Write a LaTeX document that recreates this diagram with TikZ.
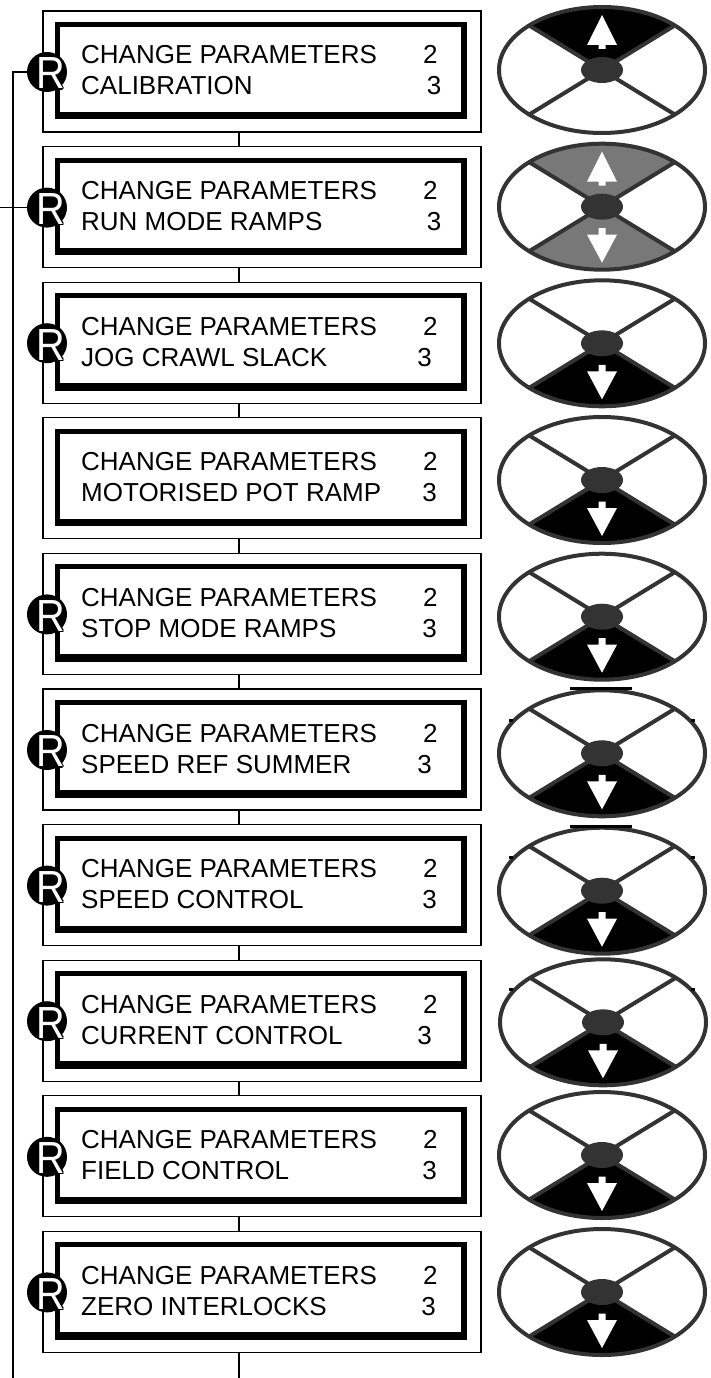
\documentclass[tikz,border=0pt]{standalone}
\usepackage{fontspec}
\setmainfont{Liberation Sans}
\newfontfamily\rfont{Liberation Sans}[FakeStretch=0.88]
\usetikzlibrary{calc}
\definecolor{keyg}{HTML}{333333}
\definecolor{segg}{HTML}{787878}
\tikzset{
  outerbox/.style={draw=black, line width=1.3pt, minimum width=438pt, minimum height=121pt, inner sep=0pt, outer sep=0pt, anchor=north west},
  lcdtext/.style={font=\fontsize{26}{30}\selectfont, inner sep=0pt, anchor=base west},
  numtext/.style={font=\fontsize{26}{30}\selectfont, inner sep=0pt, anchor=base east},
  rnode/.style={circle, fill=black, minimum size=40pt, inner sep=0pt},
  rletter/.style={inner sep=0pt, font=\rfont\fontsize{45}{45}\selectfont},
  wire/.style={line width=1.3pt},
  keyline/.style={draw=keyg, line width=4pt},
  artifact/.style={fill=black},
}
\newcommand\kpad[4]{% #1 x, #2 y (tikz), #3 top colour, #4 bottom colour
  \begin{scope}[shift={(#1,#2)}]
    \fill[#3] (0,0) -- (45:103 and 63) arc[start angle=45,end angle=135,x radius=103,y radius=63] -- cycle;
    \fill[#4] (0,0) -- (225:103 and 63) arc[start angle=225,end angle=315,x radius=103,y radius=63] -- cycle;
    \draw[keyline] (45:103 and 63) -- (225:103 and 63) (135:103 and 63) -- (315:103 and 63);
    \draw[keyline] (0,0) ellipse[x radius=103,y radius=63];
    \fill[keyg] (0,0) ellipse[x radius=21,y radius=13];
  \end{scope}}
\newcommand\uparr[2]{%
  \fill[white, shift={(#1,#2)}] (0,55) -- (15,25) -- (3.5,25) -- (3.5,21) -- (-3.5,21) -- (-3.5,25) -- (-15,25) -- cycle;}
\newcommand\dnarr[2]{%
  \fill[white, shift={(#1,#2)}] (0,-56) -- (15,-28) -- (3.5,-28) -- (3.5,-21.5) -- (-3.5,-21.5) -- (-3.5,-28) -- (-15,-28) -- cycle;}
\begin{document}
\begin{tikzpicture}[x=1pt,y=1pt]
\useasboundingbox (0,0) rectangle (710,-1378);
\fill[white] (0,0) rectangle (710,-1378);
\coordinate (cx) at (239,0);
\coordinate (lx) at (13,0);
\coordinate (ledge) at (0,0);
\coordinate (bot) at (239,-1378);
\coordinate (lbot) at (13,-1378);

% boxes
\foreach \i/\name/\tx/\r in {
  1/CALIBRATION/441.5/1,
  2/RUN MODE RAMPS/441.5/1,
  3/JOG CRAWL SLACK/432/1,
  4/MOTORISED POT RAMP/437/0,
  5/STOP MODE RAMPS/437/1,
  6/SPEED REF SUMMER/432/1,
  7/SPEED CONTROL/437/1,
  8/CURRENT CONTROL/432/1,
  9/FIELD CONTROL/437/1,
  10/ZERO INTERLOCKS/436/1}{
  \pgfmathsetmacro\yt{-(11+(\i-1)*135.6)}
  \node[outerbox] (b\i) at (43,\yt) {};
  \fill[black] ($(b\i.north west)+(12,-11)$) rectangle ($(b\i.north west)+(424,-108.5)$);
  \fill[white] ($(b\i.north west)+(17,-16)$) rectangle ($(b\i.north west)+(418,-101)$);
  \node[lcdtext] (ta\i) at ($(b\i.north west)+(38,-53)$) {CHANGE PARAMETERS};
  \node[numtext] (na\i) at ($(b\i.north west)+(394.7,-53)$) {2};
  \node[lcdtext] (tb\i) at ($(b\i.north west)+(38,-84)$) {\name};
  \node[numtext] (nb\i) at ($(b\i.north west)+(\tx-43,-84)$) {3};
  \ifnum\r=1
    \node[rnode] (r\i) at ($(b\i.west)+(4,-0.5)$) {};
    \foreach \dx/\dy in {1.2/0,-1.2/0,0/1.2,0/-1.2,0.9/0.9,-0.9/0.9,0.9/-0.9,-0.9/-0.9}
      \node[rletter, text=black] at ($(r\i.center)+(4+\dx,-1.5+\dy)$) {R};
    \node[rletter, text=white] (rl\i) at ($(r\i.center)+(4,-1.5)$) {R};
  \fi
}

% connectors between boxes
\foreach \i [evaluate=\i as \j using int(\i+1)] in {1,...,9}
  \draw[wire] (b\i.south -| cx) -- (b\j.north -| cx);
\draw[wire] (b10.south -| bot) -- (bot);

% return lines
\draw[wire] (r1.west) -- (r1.west -| lx) -- (lbot);
\draw[wire] (r2.west) -- (r2.west -| ledge);

% keypads
\kpad{602}{-70}{black}{white}\uparr{602}{-70}
\kpad{602}{-206.7}{segg}{segg}\uparr{602}{-206.7}\dnarr{602}{-206.7}
\foreach \x/\y in {602/-343.3, 602/-480, 602/-616.7, 602/-753.3, 602/-890.7, 603/-1022.3, 602/-1155, 602/-1292}{
  \kpad{\x}{\y}{white}{black}\dnarr{\x}{\y}
}

% small marks around keypads 6-8
\foreach \y in {-753.3,-890.7}{
  \fill[artifact] (570,\y+63) rectangle (632,\y+66);
}
\foreach \y in {-753.3,-890.7,-1022.3}{
  \fill[artifact] (508.5,\y+31.5) rectangle (513,\y+34.5);
  \fill[artifact] (690.5,\y+31.5) rectangle (695,\y+34.5);
}
\end{tikzpicture}
\end{document}
